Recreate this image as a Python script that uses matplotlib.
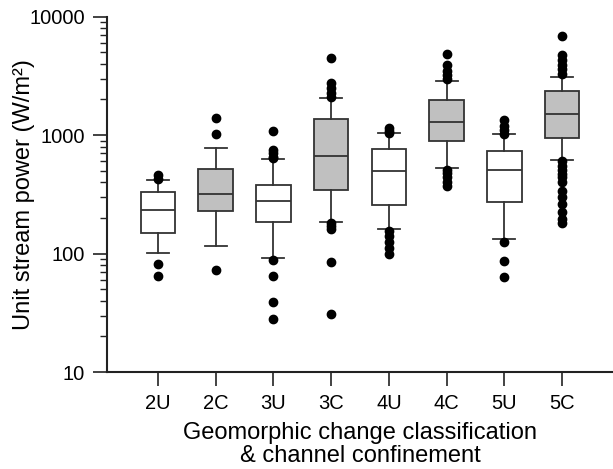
import matplotlib
matplotlib.use("Agg")
import matplotlib.pyplot as plt
from matplotlib.ticker import LogLocator, NullFormatter, FixedLocator

plt.rcParams['font.family'] = ['Liberation Sans', 'DejaVu Sans']

# categories and box statistics (W/m2)
labels = ["2U", "2C", "3U", "3C", "4U", "4C", "5U", "5C"]
whis_lo = [102, 116, 91, 186, 160, 531, 132, 616]
q1 = [148, 230, 186, 344, 257, 892, 271, 940]
med = [233, 318, 276, 670, 498, 1290, 507, 1517]
q3 = [329, 514, 381, 1368, 759, 1978, 730, 2343]
whis_hi = [418, 783, 628, 2070, 1035, 2864, 1021, 3114]

fl_2U = [460, 430, 81, 65]
fl_2C = [1390, 1020, 72]
fl_3U = [1080, 750, 700, 660, 640, 89, 65, 39, 28]
fl_3C = [4500, 2750, 2500, 2250, 2080, 180, 170, 160, 85, 31]
fl_4U = [1140, 1080, 1040, 155, 140, 125, 112, 100]
fl_4C = [4850, 3900, 3500, 3200, 2950, 510, 480, 440, 400, 370]
fl_5U = [1340, 1200, 1100, 1030, 125, 87, 64]
fl_5C = [6900, 4750, 4300, 3900, 3600, 3300, 600, 550, 510, 470, 440, 400,
         340, 300, 260, 225, 195, 180]
fliers = [fl_2U, fl_2C, fl_3U, fl_3C, fl_4U, fl_4C, fl_5U, fl_5C]

confined = [lab.endswith("C") for lab in labels]

stats = []
for i, lab in enumerate(labels):
    stats.append(dict(label=lab, whislo=whis_lo[i], q1=q1[i], med=med[i],
                      q3=q3[i], whishi=whis_hi[i], fliers=fliers[i]))

fig = plt.figure(figsize=(6.13, 4.69), dpi=100)
ax = fig.add_axes([0.1746, 0.2068, 0.8254, 0.7576])

pos = list(range(1, len(labels) + 1))
line_c = "#333333"
bp = ax.bxp(stats, positions=pos, widths=0.6, capwidths=0.38, patch_artist=True,
            boxprops=dict(edgecolor=line_c, linewidth=1.3),
            medianprops=dict(color=line_c, linewidth=1.3),
            whiskerprops=dict(color=line_c, linewidth=1.3),
            capprops=dict(color=line_c, linewidth=1.3),
            flierprops=dict(marker="o", markerfacecolor="black",
                            markeredgecolor="black", markersize=6))
for box, c in zip(bp["boxes"], confined):
    box.set_facecolor("#c0c0c0" if c else "white")

ax.set_yscale("log")
ax.set_ylim(10, 10000)
ax.set_xlim(0.12, 8.88)
ax.yaxis.set_major_locator(FixedLocator([10, 100, 1000, 10000]))
ax.yaxis.set_major_formatter(matplotlib.ticker.FuncFormatter(lambda v, p: "%d" % v))
ax.yaxis.set_minor_locator(LogLocator(base=10, subs=range(2, 10)))
ax.yaxis.set_minor_formatter(NullFormatter())
ax.set_xticks(pos)
ax.set_xticklabels(labels)

for s in ["top", "right"]:
    ax.spines[s].set_visible(False)
for s in ["left", "bottom"]:
    ax.spines[s].set_linewidth(1.5)
    ax.spines[s].set_color("#222222")

ax.tick_params(axis="both", which="major", length=10, width=1.2, labelsize=14.5,
               pad=6, color="#222222")
ax.tick_params(axis="y", which="minor", length=5, width=1.0, color="#222222")

ax.set_ylabel("Unit stream power (W/m²)", fontsize=17)
ax.yaxis.set_label_coords(-0.143, 0.5)
ax.set_xlabel("Geomorphic change classification\n& channel confinement",
              fontsize=17, labelpad=6, linespacing=1.1)

fig.savefig("out.png", dpi=100)
